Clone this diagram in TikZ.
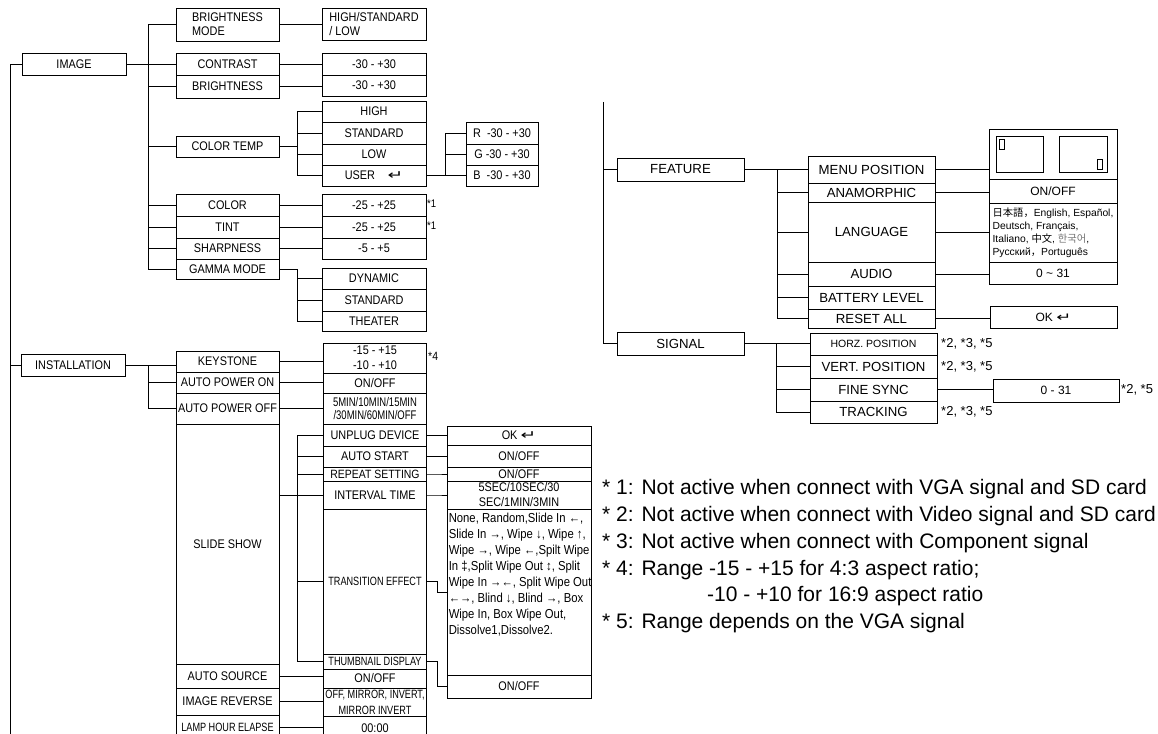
\documentclass[tikz,border=0pt]{standalone}
\usepackage{fontspec}
\setmainfont{Liberation Sans}
\newfontfamily\boxfont[FakeStretch=0.87]{Liberation Sans}
\newfontfamily\tightfont[FakeStretch=0.76]{Liberation Sans}
\newfontfamily\symfont{DejaVu Sans}
\newfontfamily\cjkfont{Noto Sans CJK JP}
\newcommand{\retkey}{\scalebox{1.5}[1]{\symfont ↵}}
\begin{document}
\begin{tikzpicture}[x=1pt, y=-1pt,
    box/.style 2 args={draw=black, line width=0.9pt, minimum width=#1,
      minimum height=#2, inner sep=1pt, align=center,
      font=\boxfont\fontsize{12.5}{14}\selectfont},
    tight/.style={font=\tightfont\fontsize{12}{14}\selectfont},
    side/.style 2 args={box={#1}{#2}, font=\fontsize{13.2}{15}\selectfont},
    sideval/.style 2 args={box={#1}{#2}, font=\fontsize{12}{14}\selectfont},
    line/.style={draw=black, line width=0.8pt},
    starnote/.style={anchor=west, inner sep=0pt,
      font=\boxfont\fontsize{11}{13}\selectfont},
    signote/.style={anchor=west, inner sep=0pt, font=\fontsize{13}{15}\selectfont},
    remark/.style={anchor=base west, inner sep=0pt,
      font=\fontsize{21}{26}\selectfont}
  ]
    \clip (0,0) rectangle (1158,733);

    % Menu principal
    \node[box={104}{22}] (image) at (74,64) {IMAGE};
    \node[box={104}{22}] (install) at (73,365) {INSTALLATION};
    \node[side={127}{23}] (feature) at (680.5,169.5) {FEATURE};
    \node[side={127}{23}] (signal) at (680.5,343.5) {SIGNAL};

    % IMAGE
    \node[box={103}{33}, align=left] (bmode) at (227.5,24.5) {BRIGHTNESS\\MODE};
    \node[box={103}{22}] (contrast) at (227.5,64) {CONTRAST};
    \node[box={103}{23}] (bright) at (227.5,86.5) {BRIGHTNESS};
    \node[box={103}{21}] (ctemp) at (227.5,146.5) {COLOR TEMP};
    \node[box={103}{22}] (color) at (227.5,205) {COLOR};
    \node[box={103}{22}] (tint) at (227.5,227) {TINT};
    \node[box={103}{21}] (sharp) at (227.5,248.5) {SHARPNESS};
    \node[box={103}{20}] (gamma) at (227.5,269) {GAMMA MODE};

    \node[box={104}{32}, align=left] (hsl) at (374,24) {HIGH/STANDARD\\/ LOW};
    \node[box={104}{22}] (contrastval) at (374,64) {-30 - +30};
    \node[box={104}{21}] (brightval) at (374,85.5) {-30 - +30};
    \node[box={104}{21}] (high) at (374,111.5) {HIGH};
    \node[box={104}{22}] (stdtemp) at (374,133) {STANDARD};
    \node[box={104}{21}] (low) at (374,154.5) {LOW};
    \node[box={104}{21}] (user) at (374,175.5) {USER\quad\retkey};
    \node[box={72}{22}] (rval) at (502,133) {R\ \ -30 - +30};
    \node[box={72}{21}] (gval) at (502,154.5) {G\ -30 - +30};
    \node[box={72}{21}] (bval) at (502,175.5) {B\ \ -30 - +30};
    \node[box={104}{22}] (colorval) at (374,205) {-25 - +25};
    \node[box={104}{22}] (tintval) at (374,227) {-25 - +25};
    \node[box={104}{21}] (sharpval) at (374,248.5) {-5 - +5};
    \node[box={104}{21}] (dynamic) at (374,278.5) {DYNAMIC};
    \node[box={104}{22}] (stdgamma) at (374,300) {STANDARD};
    \node[box={104}{20}] (theater) at (374,321) {THEATER};
    \node[starnote] (n1a) at (427,204) {*1};
    \node[starnote] (n1b) at (427,226) {*1};

    % INSTALLATION
    \node[box={103}{21}] (keystone) at (227.5,361.5) {KEYSTONE};
    \node[box={103}{21}] (apon) at (227.5,382.5) {AUTO POWER ON};
    \node[box={103}{31}] (apoff) at (227.5,408.5) {AUTO POWER OFF};
    \node[box={103}{240}] (slide) at (227.5,544) {SLIDE SHOW};
    \node[box={103}{24}] (asrc) at (227.5,676) {AUTO SOURCE};
    \node[box={103}{27}] (irev) at (227.5,701.5) {IMAGE REVERSE};
    \node[box={103}{24}, tight] (lamp) at (227.5,727) {LAMP HOUR ELAPSE};

    \node[box={103}{30}, font=\boxfont\fontsize{12.5}{15}\selectfont]
      (keyval) at (375,358) {-15 - +15\\-10 - +10};
    \node[box={103}{20}] (aponval) at (375,383) {ON/OFF};
    \node[box={103}{31}, font=\tightfont\fontsize{12.5}{13}\selectfont]
      (apoffval) at (375,408.5) {5MIN/10MIN/15MIN\\/30MIN/60MIN/OFF};
    \node[box={103}{22}] (unplug) at (375,435) {UNPLUG DEVICE};
    \node[box={103}{21}] (astart) at (375,456.5) {AUTO START};
    \node[box={103}{14}, font=\boxfont\fontsize{12}{14}\selectfont]
      (repeatset) at (375,474) {REPEAT SETTING};
    \node[box={103}{28}] (interval) at (375,495) {INTERVAL TIME};
    \node[box={103}{145}, tight] (trans) at (375,581.5) {TRANSITION EFFECT};
    \node[box={103}{15}, tight] (thumb) at (375,661.5) {THUMBNAIL DISPLAY};
    \node[box={103}{19}] (asrcval) at (375,678.5) {ON/OFF};
    \node[box={103}{28}, font=\tightfont\fontsize{12}{16}\selectfont]
      (irevval) at (375,702) {OFF, MIRROR, INVERT,\\MIRROR INVERT};
    \node[box={103}{24}] (lampval) at (375,728) {00:00};
    \node[starnote, font=\boxfont\fontsize{12}{14}\selectfont] (n4) at (428,356) {*4};

    \node[box={144}{19}] (okval) at (519,435.5) {OK \retkey};
    \node[box={144}{22}] (astartval) at (519,456) {ON/OFF};
    \node[box={144}{14}] (repeatval) at (519,474) {ON/OFF};
    \node[box={144}{28}, font=\boxfont\fontsize{12.5}{15}\selectfont]
      (intervalval) at (519,495) {5SEC/10SEC/30\\SEC/1MIN/3MIN};
    \node[box={144}{166}] (transval) at (519,592) {};
    \node[anchor=north west, inner sep=0pt, align=left,
      font=\boxfont\fontsize{13}{16}\selectfont]
      (translist) at ([xshift=2pt, yshift=-4pt]transval.north west)
      {None, Random,Slide In ←,\\Slide In →, Wipe ↓, Wipe ↑,\\Wipe →, Wipe ←,Spilt Wipe\\In ‡,Split Wipe Out ↕, Split\\Wipe In →←, Split Wipe Out\\←→, Blind ↓, Blind →, Box\\Wipe In, Box Wipe Out,\\Dissolve1,Dissolve2.};
    \node[box={144}{23}] (thumbval) at (519,686.5) {ON/OFF};

    % FEATURE
    \node[side={127}{27}] (menupos) at (871.5,169.5) {MENU POSITION};
    \node[side={127}{19}] (anam) at (871.5,192.5) {ANAMORPHIC};
    \node[side={127}{60}] (lang) at (871.5,232) {LANGUAGE};
    \node[side={127}{24}] (audio) at (871.5,274) {AUDIO};
    \node[side={127}{23}] (battery) at (871.5,297.5) {BATTERY LEVEL};
    \node[side={127}{19}] (reset) at (871.5,318.5) {RESET ALL};

    \node[sideval={128}{50}] (menuval) at (1053,154) {};
    \node[sideval={128}{24}] (anamval) at (1053,191) {ON/OFF};
    \node[sideval={128}{59}, align=left, font=\fontsize{10.3}{13}\selectfont]
      (langval) at (1053,232.5)
      {{\cjkfont 日本語，}English, Español,\\Deutsch, Français,\\Italiano, {\cjkfont 中文}, {\cjkfont\color{black!55}한국어},\\Русский{\cjkfont ，}Português};
    \node[sideval={128}{22}] (audioval) at (1053,273) {0 \textasciitilde\ 31};
    \node[sideval={127}{22}] (okval2) at (1053.5,317) {OK \retkey};
    \draw[line, line width=0.7pt] (996,136) rectangle (1043,172);
    \draw[line, line width=0.7pt] (999,139) rectangle (1004,149);
    \draw[line, line width=0.7pt] (1059,136) rectangle (1107,172);
    \draw[line, line width=0.7pt] (1097,159) rectangle (1102,169);

    % SIGNAL
    \node[side={127}{22}, font=\fontsize{10.5}{12}\selectfont] (horz) at (873.5,344) {HORZ. POSITION};
    \node[side={127}{23}] (vert) at (873.5,366.5) {VERT. POSITION};
    \node[side={127}{23}] (fine) at (873.5,389.5) {FINE SYNC};
    \node[side={127}{22}] (track) at (873.5,412) {TRACKING};
    \node[sideval={126}{23}] (syncval) at (1056,390.5) {0 - 31};
    \node[signote] (n2a) at (941,344) {*2, *3, *5};
    \node[signote] (n2b) at (941,366.5) {*2, *3, *5};
    \node[signote] (n2c) at (941,412) {*2, *3, *5};
    \node[signote] (n2d) at (1121,389.5) {*2, *5};

    % Notas
    \node[remark] (note1) at (602,494) {* 1: Not active when connect with VGA signal and SD card};
    \node[remark] (note2) at (602,521) {* 2: Not active when connect with Video signal and SD card};
    \node[remark] (note3) at (602,548) {* 3: Not active when connect with Component signal};
    \node[remark] (note4) at (602,575) {* 4: Range -15 - +15 for 4:3 aspect ratio;};
    \node[remark] (note4b) at (707,601) {-10 - +10 for 16:9 aspect ratio};
    \node[remark] (note5) at (602,628) {* 5: Range depends on the VGA signal};

    % Troncos
    \coordinate (trunkend) at (10,745);
    \coordinate (ftop) at (603,102);
    \coordinate (imgspine) at (148,0);
    \coordinate (subspine) at (297,0);
    \coordinate (rgbspine) at (445,0);
    \coordinate (fspine) at (777,0);
    \coordinate (sspine) at (776,0);

    \draw[line] (image.west) -| (trunkend);
    \draw[line] (install.west) -- (install.west -| trunkend);
    \draw[line] (ftop) |- (signal.west);
    \draw[line] (feature.west) -- (feature.west -| ftop);

    % Relaciones IMAGE
    \draw[line] (image.east) -- (contrast.west);
    \draw[line] (bmode.west -| imgspine) -- (gamma.west -| imgspine);
    \draw[line] (bmode.west) -- (bmode.west -| imgspine);
    \draw[line] (bright.west) -- (bright.west -| imgspine);
    \draw[line] (ctemp.west) -- (ctemp.west -| imgspine);
    \draw[line] (color.west) -- (color.west -| imgspine);
    \draw[line] (tint.west) -- (tint.west -| imgspine);
    \draw[line] (sharp.west) -- (sharp.west -| imgspine);
    \draw[line] (gamma.west) -- (gamma.west -| imgspine);

    \draw[line] (bmode.east) -- (bmode.east -| hsl.west);
    \draw[line] (contrast.east) -- (contrast.east -| contrastval.west);
    \draw[line] (bright.east) -- (bright.east -| brightval.west);
    \draw[line] (color.east) -- (color.east -| colorval.west);
    \draw[line] (tint.east) -- (tint.east -| tintval.west);
    \draw[line] (sharp.east) -- (sharp.east -| sharpval.west);

    \draw[line] (ctemp.east) -- (ctemp.east -| subspine);
    \draw[line] (high.west -| subspine) -- (user.west -| subspine);
    \draw[line] (high.west) -- (high.west -| subspine);
    \draw[line] (stdtemp.west) -- (stdtemp.west -| subspine);
    \draw[line] (low.west) -- (low.west -| subspine);
    \draw[line] (user.west) -- (user.west -| subspine);

    \draw[line] (user.east) -- (bval.west);
    \draw[line] (rval.west -| rgbspine) -- (bval.west -| rgbspine);
    \draw[line] (rval.west) -- (rval.west -| rgbspine);
    \draw[line] (gval.west) -- (gval.west -| rgbspine);

    \draw[line] (gamma.east) -- (gamma.east -| subspine)
      -- (theater.west -| subspine) -- (theater.west);
    \draw[line] (dynamic.west) -- (dynamic.west -| subspine);
    \draw[line] (stdgamma.west) -- (stdgamma.west -| subspine);

    % Relaciones INSTALLATION
    \draw[line] (install.east) -- (install.east -| keystone.west);
    \draw[line] (install.east -| imgspine) -- (apoff.west -| imgspine);
    \draw[line] (apon.west) -- (apon.west -| imgspine);
    \draw[line] (apoff.west) -- (apoff.west -| imgspine);
    \draw[line] (keystone.east) -- (keystone.east -| keyval.west);
    \draw[line] (apon.east) -- (apon.east -| aponval.west);
    \draw[line] (apoff.east) -- (apoff.east -| apoffval.west);

    \draw[line] (slide.east |- interval.west) -- (interval.west);
    \draw[line] (unplug.west -| subspine) -- (thumb.west -| subspine);
    \draw[line] (unplug.west) -- (unplug.west -| subspine);
    \draw[line] (astart.west) -- (astart.west -| subspine);
    \draw[line] (repeatset.west) -- (repeatset.west -| subspine);
    \draw[line] (trans.west) -- (trans.west -| subspine);
    \draw[line] (thumb.west) -- (thumb.west -| subspine);

    \draw[line] (unplug.east) -- ++(10,0) |- (okval.west);
    \draw[line] (astart.east) -- ++(10,0) |- (astartval.west);
    \draw[line] (repeatset.east) -- ++(10,0) |- (repeatval.west);
    \draw[line] (interval.east) -- ++(10,0) |- (intervalval.west);
    \draw[line] (trans.east) -- ++(10,0) |- (transval.west);
    \draw[line] (thumb.east) -- ++(10,0) |- (thumbval.west);

    \draw[line] (asrc.east) -- (asrc.east -| asrcval.west);
    \draw[line] (irev.east) -- (irev.east -| irevval.west);
    \draw[line] (lamp.east) -- (lamp.east -| lampval.west);

    % Relaciones FEATURE
    \draw[line] (feature.east) -- (menupos.west);
    \draw[line] (menupos.west -| fspine) -- (reset.west -| fspine);
    \draw[line] (anam.west) -- (anam.west -| fspine);
    \draw[line] (lang.west) -- (lang.west -| fspine);
    \draw[line] (audio.west) -- (audio.west -| fspine);
    \draw[line] (battery.west) -- (battery.west -| fspine);
    \draw[line] (reset.west) -- (reset.west -| fspine);
    \draw[line] (menupos.east) -- (menupos.east -| menuval.west);
    \draw[line] (anam.east) -- (anam.east -| anamval.west);
    \draw[line] (lang.east) -- (lang.east -| langval.west);
    \draw[line] (audio.east) -- (audio.east -| audioval.west);
    \draw[line] (reset.east) -- (reset.east -| okval2.west);

    % Relaciones SIGNAL
    \draw[line] (signal.east) -- (signal.east -| horz.west);
    \draw[line] (horz.west -| sspine) -- (track.west -| sspine);
    \draw[line] (vert.west) -- (vert.west -| sspine);
    \draw[line] (fine.west) -- (fine.west -| sspine);
    \draw[line] (track.west) -- (track.west -| sspine);
    \draw[line] (fine.east) -- (fine.east -| syncval.west);
  \end{tikzpicture}
\end{document}
